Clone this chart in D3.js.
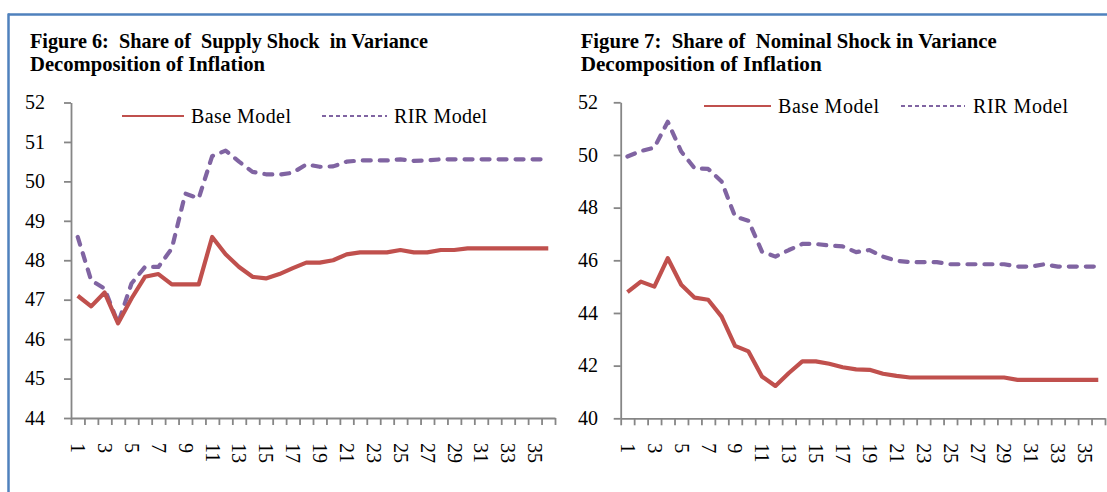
<!DOCTYPE html>
<html>
<head>
<meta charset="utf-8">
<script src="https://cdn.jsdelivr.net/npm/d3@7"></script>
<style>
  body { margin: 0; background: #fff; }
  svg text { font-family: "Liberation Serif", "Times New Roman", serif; fill: #000; }
</style>
</head>
<body>
<div class="visualisation"></div>
<script>
//----------------------------------------------------------------------------------------------------------------------------
//DATA
//----------------------------------------------------------------------------------------------------------------------------
var periods = d3.range(1, 37);
var xTickLabels = periods.filter(function(d){ return d % 2 == 1; });

var seriesNames = ["Base Model", "RIR Model"];

//Figure 6 - supply shock
var supplyBase = [47.10, 46.83, 47.18, 46.40, 47.03, 47.58, 47.65, 47.39, 47.39, 47.39,
                  48.59, 48.15, 47.83, 47.58, 47.54, 47.65, 47.80, 47.94, 47.94, 48.00,
                  48.15, 48.20, 48.20, 48.20, 48.26, 48.20, 48.20, 48.26, 48.26, 48.30,
                  48.30, 48.30, 48.30, 48.30, 48.30, 48.30];
var supplyRIR  = [48.59, 47.49, 47.28, 46.40, 47.41, 47.83, 47.83, 48.30, 49.69, 49.57,
                  50.64, 50.78, 50.50, 50.24, 50.18, 50.17, 50.22, 50.43, 50.37, 50.38,
                  50.50, 50.53, 50.53, 50.53, 50.56, 50.52, 50.53, 50.56, 50.56, 50.56,
                  50.56, 50.56, 50.56, 50.56, 50.56, 50.56];
var supplyTicks = [44, 45, 46, 47, 48, 49, 50, 51, 52];

//Figure 7 - nominal shock
var nominalBase = [44.79, 45.19, 45.00, 46.08, 45.07, 44.58, 44.50, 43.86, 42.75, 42.54,
                   41.59, 41.23, 41.72, 42.16, 42.16, 42.07, 41.94, 41.86, 41.84, 41.69,
                   41.61, 41.55, 41.55, 41.55, 41.55, 41.55, 41.55, 41.55, 41.55, 41.46,
                   41.46, 41.46, 41.46, 41.46, 41.46, 41.46];
var nominalRIR  = [49.94, 50.15, 50.28, 51.26, 50.13, 49.49, 49.47, 48.99, 47.66, 47.50,
                   46.33, 46.14, 46.39, 46.62, 46.62, 46.56, 46.53, 46.31, 46.39, 46.14,
                   45.98, 45.93, 45.93, 45.93, 45.85, 45.85, 45.85, 45.85, 45.85, 45.76,
                   45.76, 45.85, 45.76, 45.76, 45.76, 45.76];
var nominalTicks = [40, 42, 44, 46, 48, 50, 52];

//----------------------------------------------------------------------------------------------------------------------------
//STYLE
//----------------------------------------------------------------------------------------------------------------------------
var colours = { base: "#C0504D", rir: "#8064A2", axis: "#868686", frame: "#4F81BD" };
var serif = "Liberation Serif, Times New Roman, serif";

var svg = d3.select(".visualisation").append("svg")
    .attr("width", 1107)
    .attr("height", 492);

//frame (top and left edges visible)
svg.append("line")
    .attr("x1", 8).attr("x2", 1107).attr("y1", 14.5).attr("y2", 14.5)
    .attr("stroke", colours.frame).attr("stroke-width", 2.5);
svg.append("line")
    .attr("x1", 8.5).attr("x2", 8.5).attr("y1", 13.5).attr("y2", 492)
    .attr("stroke", colours.frame).attr("stroke-width", 2.5);

//----------------------------------------------------------------------------------------------------------------------------
//CHART
//----------------------------------------------------------------------------------------------------------------------------
function drawChart(cfg){
	var g = svg.append("g");

	var x = d3.scaleBand().domain(periods).range([cfg.left, cfg.right]).padding(0);
	var xEdges = d3.scaleLinear().domain([0, 36]).range([cfg.left, cfg.right]);
	var y = d3.scaleLinear().domain(d3.extent(cfg.yTicks)).range([cfg.bottom, cfg.top]);

	//titles
	cfg.title.forEach(function(t, i){
		g.append("text")
			.attr("x", cfg.titleX)
			.attr("y", 47.5 + i * 23)
			.attr("textLength", t.len)
			.attr("lengthAdjust", "spacingAndGlyphs")
			.style("white-space", "pre")
			.style("font-size", "21px")
			.style("font-weight", "bold")
			.text(t.text);
	});

	//y axis
	var yAxis = g.append("g")
		.attr("transform", "translate(" + cfg.left + ",0)")
		.call(d3.axisLeft(y).tickValues(cfg.yTicks).tickSize(7).tickSizeOuter(0).tickFormat(""));

	//y labels, right aligned at cfg.yLabelEnd
	g.append("g").selectAll("text")
		.data(cfg.yTicks)
		.enter().append("text")
		.attr("x", cfg.yLabelEnd)
		.attr("y", function(d){ return y(d); })
		.attr("dy", "0.34em")
		.style("text-anchor", "end")
		.style("font-family", serif)
		.style("font-size", "20px")
		.text(function(d){ return d; });

	//x axis: boundary ticks
	var xAxis = g.append("g")
		.attr("transform", "translate(0," + cfg.bottom + ")")
		.call(d3.axisBottom(xEdges).tickValues(d3.range(37)).tickFormat("").tickSize(7).tickSizeOuter(0));

	//x labels (odd periods, rotated)
	g.append("g").selectAll("text")
		.data(xTickLabels)
		.enter().append("text")
		.attr("transform", function(d){
			return "translate(" + (x(d) + x.bandwidth() / 2) + "," + (cfg.bottom + 25) + ") rotate(90)";
		})
		.attr("dy", "0.33em")
		.style("font-size", "20px")
		.text(function(d){ return d; });

	[yAxis, xAxis].forEach(function(a){
		a.select(".domain").attr("stroke", colours.axis).attr("stroke-width", 1.8);
		a.selectAll(".tick line").attr("stroke", colours.axis).attr("stroke-width", 1.8);
	});

	//lines
	var line = d3.line()
		.x(function(d, i){ return x(periods[i]) + x.bandwidth() / 2; })
		.y(function(d){ return y(d); });

	g.append("path")
		.datum(cfg.rir)
		.attr("d", line)
		.attr("fill", "none")
		.attr("stroke", colours.rir)
		.attr("stroke-width", 4.2)
		.attr("stroke-linecap", "round")
		.attr("stroke-linejoin", "round")
		.attr("stroke-dasharray", "8,9");

	g.append("path")
		.datum(cfg.base)
		.attr("d", line)
		.attr("fill", "none")
		.attr("stroke", colours.base)
		.attr("stroke-width", 4.2)
		.attr("stroke-linejoin", "round");

	//legend
	var leg = cfg.legend;
	g.append("line")
		.attr("x1", leg.base[0]).attr("x2", leg.base[1]).attr("y1", leg.y).attr("y2", leg.y)
		.attr("stroke", colours.base).attr("stroke-width", 2);
	g.append("text")
		.attr("x", leg.base[2]).attr("y", leg.y).attr("dy", "0.35em")
		.attr("textLength", leg.base[3])
		.style("font-size", "20px")
		.text(seriesNames[0]);
	g.append("line")
		.attr("x1", leg.rir[0]).attr("x2", leg.rir[1]).attr("y1", leg.y).attr("y2", leg.y)
		.attr("stroke", colours.rir).attr("stroke-width", 2)
		.attr("stroke-dasharray", "4,3");
	g.append("text")
		.attr("x", leg.rir[2]).attr("y", leg.y).attr("dy", "0.35em")
		.attr("textLength", leg.rir[3])
		.style("font-size", "20px")
		.text(seriesNames[1]);
}

drawChart({
	left: 71, right: 555, top: 102.5, bottom: 418,
	yTicks: supplyTicks, yLabelEnd: 45,
	base: supplyBase, rir: supplyRIR,
	titleX: 30,
	title: [{text: "Figure 6:  Share of  Supply Shock  in Variance", len: 398},
	        {text: "Decomposition of Inflation", len: 235}],
	legend: {y: 116, base: [122, 184, 191, 100], rir: [322, 387, 394, 93]}
});

drawChart({
	left: 620.7, right: 1105, top: 102.3, bottom: 418.3,
	yTicks: nominalTicks, yLabelEnd: 598,
	base: nominalBase, rir: nominalRIR,
	titleX: 580.7,
	title: [{text: "Figure 7:  Share of  Nominal Shock in Variance", len: 416},
	        {text: "Decomposition of Inflation", len: 241}],
	legend: {y: 106, base: [704, 771, 778, 101], rir: [901, 965, 973, 95]}
});
</script>
</body>
</html>
